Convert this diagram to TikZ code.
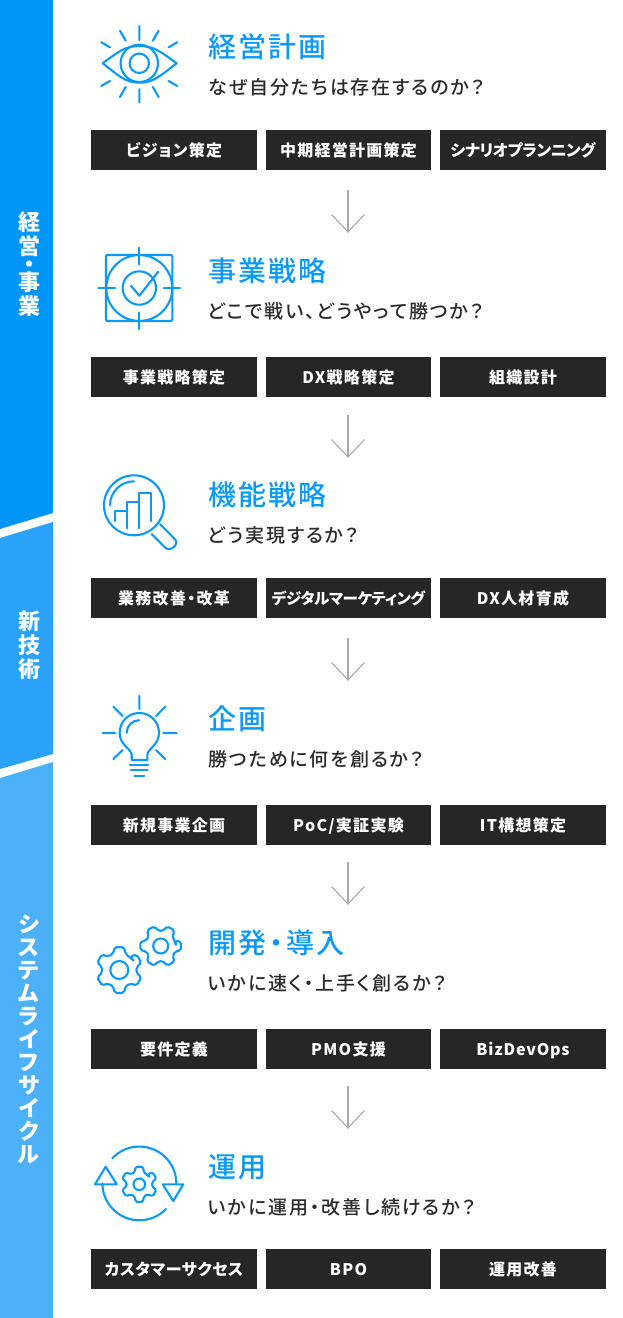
\documentclass[tikz,border=0pt]{standalone}
\usepackage{fontspec}
\setmainfont{Noto Sans CJK JP}[RawFeature=+palt]
\newfontfamily\ttlfont{Noto Sans CJK JP Medium}[RawFeature=+palt,LetterSpace=7]
\newfontfamily\subfont{Noto Sans CJK JP Medium}[RawFeature=+palt,LetterSpace=10]
\newfontfamily\boxfont{Noto Sans CJK JP}[RawFeature=+palt,LetterSpace=8]
\usetikzlibrary{calc}
\definecolor{barA}{HTML}{0095F9}
\definecolor{barB}{HTML}{2AA2F9}
\definecolor{barC}{HTML}{4DB1FA}
\definecolor{accent}{HTML}{0A99F7}
\definecolor{dark}{HTML}{262626}
\definecolor{ink}{HTML}{2B2B2B}
\definecolor{arrowgray}{HTML}{A8A8A8}
\tikzset{
  ico/.style={draw=accent,line width=2.1pt,line cap=round,line join=round},
  ttl/.style={anchor=west,inner sep=0,text=accent,font=\ttlfont\fontsize{28}{30}\selectfont},
  subt/.style={anchor=west,inner sep=0,text=ink,font=\subfont\fontsize{19}{22}\selectfont},
  chip/.style={fill=dark,text=white,inner sep=0,minimum height=39.5pt,text height=13pt,text depth=0pt,font=\boxfont\bfseries\fontsize{16}{18}\selectfont,anchor=center},
  chipA/.style={chip,minimum width=166pt},
  chipB/.style={chip,minimum width=165pt},
  flowarrow/.style={draw=arrowgray,line width=1.1pt},
  side/.style={text=white,inner sep=0,align=center,font=\bfseries\fontsize{22}{24}\selectfont},
}
\newcommand{\gearpath}[6]{% cx,cy,rbody,rtip,corner radius,rotation
  \path[ico,rounded corners=#5pt] (#1,#2) ++(#6+0:#3)
  \foreach \a in {0,60,...,300}{
    -- ($(#1,#2)+(#6+\a-20:#3)$)
    -- ($(#1,#2)+(#6+\a-12:#4)$)
    -- ($(#1,#2)+(#6+\a+12:#4)$)
    -- ($(#1,#2)+(#6+\a+20:#3)$)
  } -- cycle;
}
\begin{document}
\begin{tikzpicture}[x=1pt,y=-1pt]
\useasboundingbox (0,0) rectangle (622,1318);
% side bands
\fill[barA] (0,0) -- (53,0) -- (53,513) -- (0,529) -- cycle;
\fill[barB] (0,538) -- (53,522) -- (53,754) -- (0,769) -- cycle;
\fill[barC] (0,778) -- (53,762) -- (53,1318) -- (0,1318) -- cycle;
\node[side] (sideA) at (29,264) {経\\営\\[-6pt]・\\[-6pt]事\\業};
\node[side] (sideB) at (29,645) {新\\技\\術};
\node[side,font=\bfseries\fontsize{22}{23}\selectfont] (sideC) at (29,1039) {シ\\ス\\テ\\ム\\ラ\\イ\\フ\\サ\\イ\\ク\\ル};
% section 1
\node[ttl] (t1) at (208,47) {経営計画};
\node[subt] (s1) at (208,87.5) {なぜ自分たちは存在するのか？};
\node[chipA] (a1) at (174,150) {ビジョン策定};
\node[chipB] (b1) at (348.5,150) {中期経営計画策定};
\node[chipA] (c1) at (523,150) {\addfontfeature{LetterSpace=-2}シナリオプランニング};
% section 2
\node[ttl] (t2) at (208,271) {事業戦略};
\node[subt] (s2) at (208,311.5) {どこで戦い、どうやって勝つか？};
\node[chipA] (a2) at (174,377) {事業戦略策定};
\node[chipB] (b2) at (348.5,377) {DX戦略策定};
\node[chipA] (c2) at (523,377) {組織設計};
% section 3
\node[ttl] (t3) at (208,495) {機能戦略};
\node[subt] (s3) at (208,535.5) {どう実現するか？};
\node[chipA] (a3) at (174,598) {業務改善・改革};
\node[chipB] (b3) at (348.5,598) {\addfontfeature{LetterSpace=-2.5}\fontsize{15.5}{18}\selectfont デジタルマーケティング};
\node[chipA] (c3) at (523,598) {DX人材育成};
% section 4
\node[ttl] (t4) at (208,719) {企画};
\node[subt] (s4) at (208,759.5) {勝つために何を創るか？};
\node[chipA] (a4) at (174,825) {新規事業企画};
\node[chipB] (b4) at (348.5,825) {PoC/実証実験};
\node[chipA] (c4) at (523,825) {IT構想策定};
% section 5
\node[ttl] (t5) at (208,943) {開発\kern3pt・\kern3pt導入};
\node[subt] (s5) at (208,983.5) {いかに速く・上手く創るか？};
\node[chipA] (a5) at (174,1049) {要件定義};
\node[chipB] (b5) at (348.5,1049) {PMO支援};
\node[chipA] (c5) at (523,1049) {\addfontfeature{LetterSpace=5}BizDevOps};
% section 6
\node[ttl] (t6) at (208,1167) {運用};
\node[subt] (s6) at (208,1207.5) {いかに運用・改善し続けるか？};
\node[chipA] (a6) at (174,1269) {\addfontfeature{LetterSpace=3}カスタマーサクセス};
\node[chipB] (b6) at (348.5,1269) {BPO};
\node[chipA] (c6) at (523,1269) {運用改善};
% flow arrows
\foreach \n/\y in {1/190,2/415,3/638,4/862,5/1086}{
  \coordinate (up\n) at (348,\y);
  \coordinate (tip\n) at (348,\y+42);
  \coordinate (la\n) at (331.5,\y+24.5);
  \coordinate (ra\n) at (364.5,\y+24.5);
  \draw[flowarrow] (up\n) -- (tip\n);
  \draw[flowarrow] (la\n) -- (tip\n) -- (ra\n);
}
% eye
\draw[ico] (102.7,63.3) .. controls (118,52) and (125,46) .. (139.5,46) .. controls (154,46) and (161,52) .. (176.7,63.3) .. controls (161,75) and (154,82.7) .. (139.5,82.7) .. controls (125,82.7) and (118,75) .. (102.7,63.3) -- cycle;
\draw[ico] (139.3,63.3) circle[radius=18.7];
\draw[ico] (139.3,63.3) circle[radius=9.7];
\draw[ico] (139.3,26)--(139.3,40) (139.3,89.3)--(139.3,102.3)
 (120,30.7)--(125.7,40.7) (158.6,30.7)--(152.9,40.7)
 (101.3,42.3)--(110,47.3) (177.3,42.3)--(168.6,47.3)
 (101.3,86)--(110,81) (177.3,86)--(168.6,81)
 (120,97)--(125.7,87) (158.6,97)--(152.9,87);
% target
\draw[ico,rounded corners=1.2pt] (106,255) rectangle (172.3,321);
\draw[ico] (139.3,288) circle[radius=33];
\draw[ico] (139.3,288) circle[radius=16.7];
\draw[ico] (139.3,247.7)--(139.3,264.3) (139.3,312.3)--(139.3,329) (98.3,288)--(115,288) (164,288)--(180,288);
\draw[ico] (131,285.7)--(139.3,295.7)--(158.3,271.7);
% magnifier
\draw[ico] (134,505.3) circle[radius=30];
\draw[ico] (110,505.3) arc[start angle=180,end angle=270,radius=24];
\draw[ico] (115,521) -- (115,511) -- (126.7,511) (126.7,528.3) -- (126.7,501.7) -- (139,501.7) (139,528.3) -- (139,492.7) -- (151,492.7) -- (151,521);
\draw[ico] (151.7,534) -- (165,547.5) .. controls (170,552.5) and (180,544) .. (175,539.3) -- (160,524);
% bulb
\draw[ico] (139.3,695.7)--(139.3,709) (102.7,733)--(115,733) (163.3,733)--(176.7,733)
 (113.3,706.7)--(122.7,716) (165.3,706.7)--(156,716) (113.3,759)--(122.7,750) (165.3,759)--(156,750);
\draw[ico] (131.7,760) -- (131.7,755) .. controls (131.7,749) and (119.6,745) .. (119.6,733) .. controls (119.6,722) and (128,713) .. (139.3,713) .. controls (150.6,713) and (159,722) .. (159,733) .. controls (159,745) and (147.3,749) .. (147.3,755) -- (147.3,760) -- cycle;
\draw[ico] (130,765)--(148.3,765) (131,770.3)--(147.7,770.3) (134.3,775.7)--(144.3,775.7);
\draw[ico] (126.7,732.7) arc[start angle=180,end angle=270,radius=12.5];
% gears
\gearpath{119.3}{970}{17.5}{23.3}{2}{-30}
\draw[ico] (119.3,970) circle[radius=9];
\gearpath{160.7}{946}{15.5}{20.8}{2}{0}
\draw[ico] (160.7,946) circle[radius=7.5];
% cycle
\draw[ico] (112.3,1158.3) arc[start angle=223,end angle=360,radius=37];
\draw[ico] (166,1209) arc[start angle=44,end angle=180,radius=37];
\draw[ico] (162.7,1184.3)--(183.3,1184.3)--(173.3,1201)--cycle;
\draw[ico] (95,1184.3)--(105.7,1166.7)--(116.7,1184.3)--cycle;
\gearpath{139.3}{1184.3}{13}{18}{1.6}{-30}
\draw[ico] (139.3,1184.3) circle[radius=5.8];
\end{tikzpicture}
\end{document}
